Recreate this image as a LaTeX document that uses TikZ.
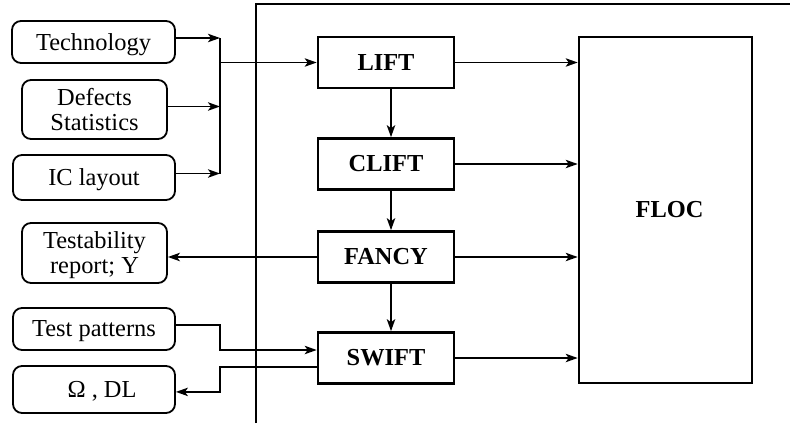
\documentclass[tikz,border=0pt]{standalone}
\usepackage{fontspec}
\setmainfont{Liberation Serif}
\usetikzlibrary{arrows.meta}
\begin{document}
\begin{tikzpicture}[x=0.5pt,y=-0.5pt,
  every node/.style={font=\fontsize{12.2}{12.5}\selectfont, inner sep=0pt},
  srcbox/.style={draw, line width=0.9pt, rounded corners=4.5pt, align=center, text depth=0pt},
  blockbox/.style={draw, line width=1.3pt, minimum width=68pt, minimum height=25.5pt, font=\fontsize{12.2}{12.5}\selectfont\bfseries},
  conn/.style={line width=0.9pt},
  arr/.style={conn, -{Stealth[length=6pt,width=4.2pt,inset=1.5pt]}}]
\useasboundingbox (0,0) rectangle (790,423);
% frame
\coordinate (ftop) at (256,4);
\coordinate (fbot) at (256,423);
\coordinate (fright) at (790,4);
\draw[line width=1pt] (fbot) -- (ftop) -- (fright);
% junction x
\coordinate (jx) at (220,0);
% source boxes
\node[srcbox, minimum width=81.5pt, minimum height=21pt] (tech) at (93.5,42) {Technology};
\node[srcbox, minimum width=72.5pt, minimum height=29.5pt] (def) at (94.5,109.5) {Defects\\Statistics};
\node[srcbox, minimum width=81pt, minimum height=22.5pt] (ic) at (94,177.5) {IC layout};
\node[srcbox, minimum width=72.5pt, minimum height=30pt] (testab) at (94.5,253) {Testability\\report; Y};
\node[srcbox, minimum width=81pt, minimum height=21pt] (tp) at (94,329) {Test patterns};
\node[srcbox, minimum width=81pt, minimum height=23.5pt] (om) at (94,389.5) {\hspace*{8pt}Ω , DL};
% blocks
\node[blockbox] (lift) at (386,62.5) {LIFT};
\node[blockbox] (clift) at (386,164) {CLIFT};
\node[blockbox] (fancy) at (386,257) {FANCY};
\node[blockbox] (swift) at (386,358) {SWIFT};
\node[blockbox, minimum width=86.5pt, minimum height=173pt] (floc) at (665.5,210) {\raisebox{-2pt}{\hspace*{4pt}FLOC}};
% inputs to junction
\draw[arr] ([yshift=2pt]tech.east) -- ([yshift=2pt]tech.east -| jx);
\draw[arr] ([yshift=1.5pt]def.east) -- ([yshift=1.5pt]def.east -| jx);
\draw[arr] ([yshift=2pt]ic.east) -- ([yshift=2pt]ic.east -| jx);
\draw[conn] ([yshift=2pt]tech.east -| jx) -- ([yshift=2pt]ic.east -| jx);
\draw[arr] (lift.west -| jx) -- (lift.west);
% chain
\draw[arr] ([xshift=2.5pt]lift.south) -- ([xshift=2.5pt]clift.north);
\draw[arr] ([xshift=2.5pt]clift.south) -- ([xshift=2.5pt]fancy.north);
\draw[arr] ([xshift=2.5pt]fancy.south) -- ([xshift=2.5pt]swift.north);
% to FLOC
\draw[arr] (lift.east) -- (lift.east -| floc.west);
\draw[arr] (clift.east) -- (clift.east -| floc.west);
\draw[arr] (fancy.east) -- (fancy.east -| floc.west);
\draw[arr] (swift.east) -- (swift.east -| floc.west);
% outputs
\draw[arr] (fancy.west) -- (fancy.west -| testab.east);
\draw[arr] ([yshift=2pt]tp.east) -- ([yshift=2pt]tp.east -| jx) |- ([yshift=4pt]swift.west);
\draw[arr] ([yshift=-4.5pt]swift.west) -| ([yshift=-1.2pt]jx |- om.east) -- ([yshift=-1.2pt]om.east);
\end{tikzpicture}
\end{document}
